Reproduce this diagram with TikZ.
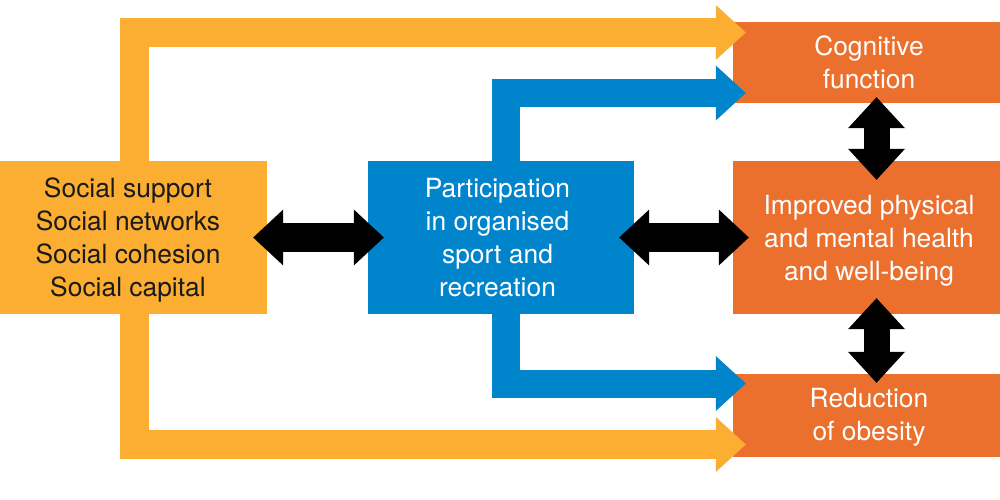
\documentclass[tikz,border=0pt]{standalone}
\usepackage{fontspec}
\setmainfont{TeX Gyre Heros}
\usetikzlibrary{arrows.meta}
\definecolor{ycol}{HTML}{FBAE32}
\definecolor{bcol}{HTML}{0084CB}
\definecolor{ocol}{HTML}{EB6F2D}
\definecolor{tcol}{HTML}{1A1A1A}
\tikzset{
  box/.style={rectangle, draw=none, inner sep=0pt},
  txt/.style={align=center, anchor=north, inner sep=0pt, font=\fontsize{26.4}{33}\selectfont},
  fatarrow/.style={line width=29pt, -{Triangle[length=30pt,width=55pt,line width=0pt]}},
  dblh/.style={black, line width=29pt, {Triangle[length=30pt,width=56pt,line width=0pt]}-{Triangle[length=30pt,width=56pt,line width=0pt]}},
  dblv/.style={black, line width=26pt, {Triangle[length=31pt,width=57pt,line width=0pt]}-{Triangle[length=31pt,width=57pt,line width=0pt]}}
}
\newcommand{\topstrut}{\rule{0pt}{20pt}}
\newcommand{\botstrut}{\rule[-6pt]{0pt}{6pt}}
\begin{document}
\begin{tikzpicture}[x=1pt,y=-1pt]
\useasboundingbox (0,0) rectangle (1000,500);
% boxes
\node[box, fill=ycol, minimum width=278pt, minimum height=153pt] (left) at (128,237.5) {};
\node[box, fill=bcol, minimum width=266pt, minimum height=153pt] (blue) at (501,237.5) {};
\node[box, fill=ocol, minimum width=272pt, minimum height=81pt] (cog) at (869,62.5) {};
\node[box, fill=ocol, minimum width=272pt, minimum height=153pt] (imp) at (869,237.5) {};
\node[box, fill=ocol, minimum width=272pt, minimum height=83pt] (red) at (869,415.5) {};
% coloured connectors
\draw[fatarrow, ycol] ([xshift=6.5pt]left.north) |- ([xshift=13pt,yshift=30pt]cog.west);
\draw[fatarrow, ycol] ([xshift=6.5pt]left.south) |- ([xshift=13pt,yshift=-29pt]red.west);
\draw[fatarrow, bcol, line width=28pt] ([xshift=5pt]blue.north) |- ([xshift=13pt,yshift=-30.5pt]cog.west);
\draw[fatarrow, bcol, line width=28pt] ([xshift=5pt]blue.south) |- ([xshift=13pt,yshift=32pt]red.west);
% black double arrows
\draw[dblh] ([xshift=-14pt]left.east) -- ([xshift=16pt]blue.west);
\draw[dblh] ([xshift=-15pt]blue.east) -- ([xshift=16pt]imp.west);
\draw[dblv] ([xshift=7.5pt,yshift=6pt]cog.south) -- ([xshift=7.5pt,yshift=-19pt]imp.north);
\draw[dblv] ([xshift=7.5pt,yshift=16pt]imp.south) -- ([xshift=7.5pt,yshift=-9pt]red.north);
% texts
\node[txt, text=tcol] (lefttext) at (128,177) {\topstrut Social support\\Social networks\\Social cohesion\\Social capital\botstrut};
\node[txt, text=white] (bluetext) at (497.5,177) {\topstrut Participation\\in organised\\sport and\\recreation\botstrut};
\node[txt, text=white] (cogtext) at (869,35) {\topstrut Cognitive\\function\botstrut};
\node[txt, text=white] (imptext) at (869,194) {\topstrut Improved physical\\and mental health\\and well-being\botstrut};
\node[txt, text=white] (redtext) at (869,387) {\topstrut Reduction\\of obesity\botstrut};
\end{tikzpicture}
\end{document}
